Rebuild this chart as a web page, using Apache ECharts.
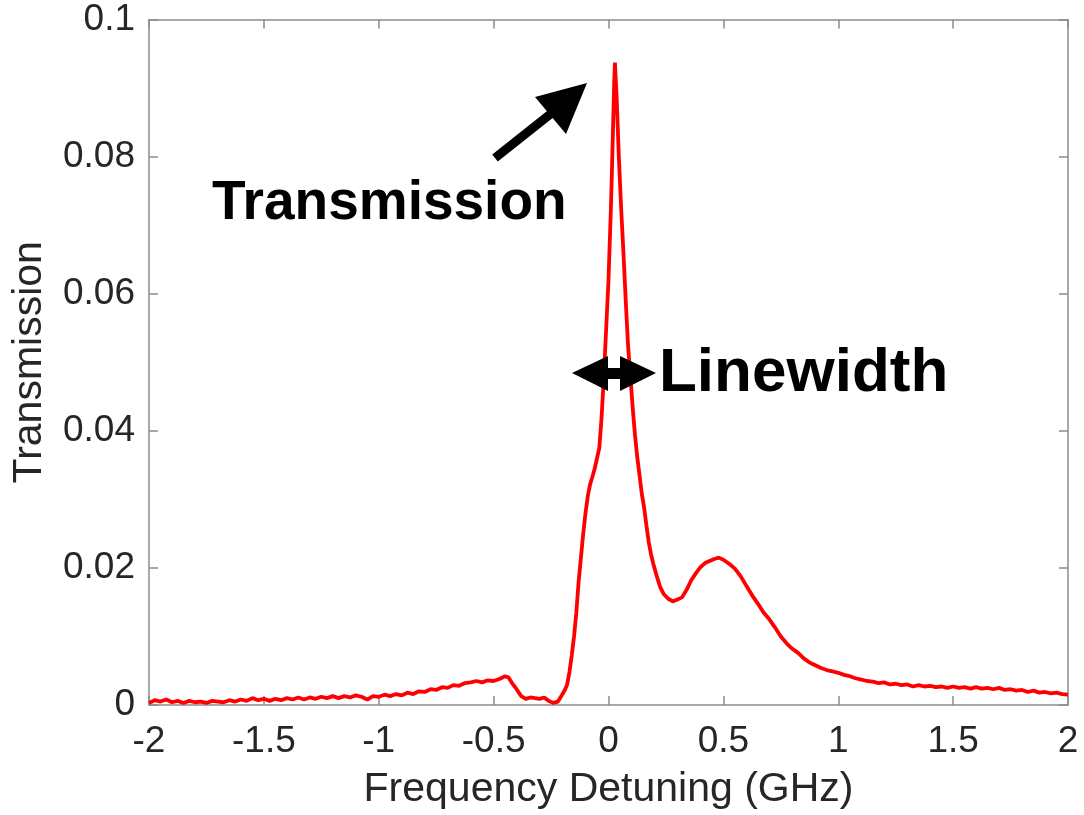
<!DOCTYPE html>
<html>
<head>
<meta charset="utf-8">
<script src="https://cdn.jsdelivr.net/npm/echarts@6/dist/echarts.min.js"></script>
<style>html,body{margin:0;padding:0;background:#fff;}#main{width:1084px;height:815px;}</style>
</head>
<body>
<div id="main"></div>
<script>
// Frequency detuning (GHz)
var xValues = [
-2.000,-1.975,-1.950,-1.925,-1.900,-1.875,-1.850,-1.825,-1.800,-1.775,
-1.750,-1.725,-1.700,-1.675,-1.650,-1.625,-1.600,-1.575,-1.550,-1.525,
-1.500,-1.475,-1.450,-1.425,-1.400,-1.375,-1.350,-1.325,-1.300,-1.275,
-1.250,-1.225,-1.200,-1.175,-1.150,-1.125,-1.100,-1.075,-1.050,-1.025,
-1.000,-0.975,-0.950,-0.925,-0.900,-0.875,-0.850,-0.825,-0.800,-0.775,
-0.750,-0.725,-0.700,-0.675,-0.650,-0.625,-0.600,-0.575,-0.550,-0.525,
-0.500,-0.475,-0.450,-0.435,-0.420,-0.400,-0.380,-0.360,-0.340,-0.320,
-0.300,-0.280,-0.260,-0.240,-0.220,-0.200,-0.190,-0.180,-0.170,-0.160,
-0.150,-0.140,-0.130,-0.120,-0.110,-0.100,-0.090,-0.080,-0.070,-0.060,
-0.050,-0.040,-0.030,-0.020,-0.010,0.000,0.010,0.015,0.020,0.025,
0.028,0.035,0.045,0.055,0.065,0.075,0.085,0.095,0.105,0.115,
0.125,0.135,0.145,0.155,0.165,0.175,0.185,0.195,0.210,0.225,
0.240,0.260,0.280,0.300,0.320,0.340,0.360,0.380,0.400,0.420,
0.440,0.460,0.480,0.500,0.525,0.550,0.575,0.600,0.625,0.650,
0.675,0.700,0.725,0.750,0.775,0.800,0.825,0.850,0.875,0.900,
0.925,0.950,0.975,1.000,1.025,1.050,1.075,1.100,1.125,1.150,
1.175,1.200,1.225,1.250,1.275,1.300,1.325,1.350,1.375,1.400,
1.425,1.450,1.475,1.500,1.525,1.550,1.575,1.600,1.625,1.650,
1.675,1.700,1.725,1.750,1.775,1.800,1.825,1.850,1.875,1.900,
1.925,1.950,1.975,2.000
];
// Transmission
var yValues = [
0.0003,0.0007,0.0005,0.0008,0.0004,0.0006,0.0003,0.0006,0.0004,0.0005,
0.0003,0.0006,0.0005,0.0004,0.0007,0.0005,0.0008,0.0006,0.0010,0.0007,
0.0009,0.0006,0.0009,0.0007,0.0010,0.0008,0.0011,0.0008,0.0011,0.0009,
0.0012,0.0010,0.0013,0.0010,0.0013,0.0011,0.0014,0.0012,0.0008,0.0013,
0.0012,0.0015,0.0013,0.0016,0.0014,0.0018,0.0016,0.0020,0.0019,0.0023,
0.0022,0.0026,0.0025,0.0029,0.0028,0.0032,0.0033,0.0035,0.0033,0.0036,
0.0035,0.0038,0.0042,0.0040,0.0032,0.0023,0.0013,0.0009,0.0011,0.0010,
0.0009,0.0011,0.0006,0.0003,0.0005,0.0016,0.0022,0.0030,0.0048,0.0072,
0.0100,0.0135,0.0180,0.0215,0.0250,0.0280,0.0305,0.0322,0.0333,0.0345,
0.0360,0.0375,0.0420,0.0480,0.0550,0.0620,0.0720,0.0780,0.0845,0.0910,
0.0937,0.0890,0.0800,0.0725,0.0660,0.0590,0.0525,0.0480,0.0435,0.0395,
0.0362,0.0335,0.0308,0.0288,0.0262,0.0238,0.0220,0.0206,0.0188,0.0172,
0.0162,0.0155,0.0151,0.0154,0.0157,0.0168,0.0182,0.0192,0.0201,0.0207,
0.0210,0.0213,0.0215,0.0212,0.0206,0.0199,0.0188,0.0174,0.0160,0.0148,
0.0135,0.0125,0.0113,0.0100,0.0090,0.0082,0.0076,0.0068,0.0062,0.0058,
0.0054,0.0051,0.0049,0.0047,0.0044,0.0042,0.0039,0.0037,0.0035,0.0034,
0.0032,0.0033,0.0030,0.0031,0.0029,0.0030,0.0027,0.0029,0.0027,0.0028,
0.0026,0.0027,0.0025,0.0027,0.0025,0.0026,0.0024,0.0026,0.0024,0.0025,
0.0023,0.0025,0.0022,0.0023,0.0021,0.0022,0.0019,0.0021,0.0018,0.0019,
0.0017,0.0018,0.0016,0.0015
];
var yTickValues = [0, 0.02, 0.04, 0.06, 0.08, 0.1];
var yTickLabels = ['0', '0.02', '0.04', '0.06', '0.08', '0.1'];
var xTickLabels = ['-2', '-1.5', '-1', '-0.5', '0', '0.5', '1', '1.5', '2'];

var pairs = xValues.map(function (x, i) { return [x, yValues[i]]; });

var FONT = 'Liberation Sans';
var AX = '#8c8c8c';
var TXT = '#262626';

function yLabel(v) {
  for (var i = 0; i < yTickValues.length; i++) {
    if (Math.abs(v - yTickValues[i]) < 1e-9) return yTickLabels[i];
  }
  return '';
}
function xLabel(v) {
  var idx = Math.round((v + 2) / 0.5);
  return xTickLabels[idx] !== undefined ? xTickLabels[idx] : '';
}

var lineOpt = {show: true, onZero: false, lineStyle: {color: AX, width: 1.5}};
var tickOpt = {show: true, inside: true, length: 9, lineStyle: {color: AX, width: 1.5}};

var chart = echarts.init(document.getElementById('main'), null, {renderer: 'canvas'});
var option = {
  backgroundColor: '#ffffff',
  animation: false,
  grid: {left: 149, top: 19.5, right: 16, bottom: 110, containLabel: false},
  xAxis: [{
    type: 'value', min: -2, max: 2, interval: 0.5, position: 'bottom',
    name: 'Frequency Detuning (GHz)', nameLocation: 'middle', nameGap: 64,
    nameTextStyle: {fontFamily: FONT, fontSize: 41, color: TXT},
    axisLine: lineOpt, axisTick: tickOpt,
    axisLabel: {fontFamily: FONT, fontSize: 37, color: TXT, margin: 18, formatter: xLabel},
    splitLine: {show: false}
  }, {
    type: 'value', min: -2, max: 2, interval: 0.5, position: 'top',
    axisLine: lineOpt, axisTick: tickOpt,
    axisLabel: {show: false}, splitLine: {show: false}
  }],
  yAxis: [{
    type: 'value', min: 0, max: 0.1, interval: 0.02, position: 'left',
    name: 'Transmission', nameLocation: 'middle', nameGap: 99,
    nameTextStyle: {fontFamily: FONT, fontSize: 41, color: TXT},
    axisLine: lineOpt, axisTick: tickOpt,
    axisLabel: {fontFamily: FONT, fontSize: 37, color: TXT, margin: 14, formatter: yLabel},
    splitLine: {show: false}
  }, {
    type: 'value', min: 0, max: 0.1, interval: 0.02, position: 'right',
    axisLine: lineOpt, axisTick: tickOpt,
    axisLabel: {show: false}, splitLine: {show: false}
  }],
  series: [{
    type: 'line', xAxisIndex: 0, yAxisIndex: 0,
    data: pairs, showSymbol: false, symbol: 'none', smooth: false,
    lineStyle: {color: '#ff0000', width: 3.8},
    z: 3
  }],
  graphic: [
    {type: 'line', shape: {x1: 495, y1: 158, x2: 553, y2: 112}, style: {stroke: '#000', lineWidth: 9}, z: 10},
    {type: 'polygon', shape: {points: [[587, 83], [535, 97], [566, 134]]}, style: {fill: '#000'}, z: 10},
    {type: 'polygon', shape: {points: [[572, 373], [608, 356], [608, 391]]}, style: {fill: '#000'}, z: 10},
    {type: 'polygon', shape: {points: [[656, 373], [620, 356], [620, 391]]}, style: {fill: '#000'}, z: 10},
    {type: 'rect', shape: {x: 604, y: 368, width: 20, height: 11}, style: {fill: '#000'}, z: 10},
    {type: 'text', style: {text: 'Transmission', x: 212, y: 204, textVerticalAlign: 'middle', textAlign: 'left',
      font: 'bold 55px "Liberation Sans"', fill: '#000'}, z: 10},
    {type: 'text', style: {text: 'Linewidth', x: 659, y: 374, textVerticalAlign: 'middle', textAlign: 'left',
      font: 'bold 62px "Liberation Sans"', fill: '#000'}, z: 10}
  ]
};
chart.setOption(option);
</script>
</body>
</html>
